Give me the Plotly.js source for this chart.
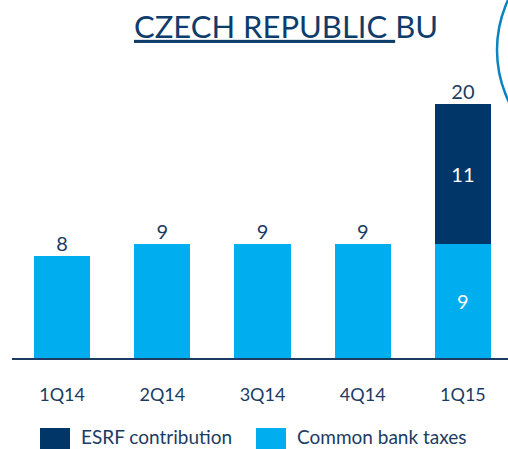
<!DOCTYPE html>
<html>
<head>
<meta charset="utf-8">
<script src="https://cdn.plot.ly/plotly-3.0.1.min.js"></script>
<style>html,body{margin:0;padding:0;background:#fff;}#chart{width:508px;height:449px;}</style>
</head>
<body>
<div id="chart"></div>
<script>
const categories = ["1Q14", "2Q14", "3Q14", "4Q14", "1Q15"];
const commonBankTaxes = [8, 9, 9, 9, 9];
const esrfContribution = [null, null, null, null, 11];
const seriesNames = ["ESRF contribution", "Common bank taxes"];
const titleText = "<u>CZECH REPUBLIC </u>BU";

const totals = categories.map((c, i) => commonBankTaxes[i] + (esrfContribution[i] || 0));

const DARK = "#003768";
const LIGHT = "#00ADEE";
const TEXT = "#1B3B63";
const FONT = "Lato, 'Open Sans', sans-serif";

const W = 508, H = 449, ML = 12, MR = 0, MT = 70, MB = 91;
const PW = W - ML - MR, PH = H - MT - MB;
const px = v => (v - ML) / PW;
const py = v => (H - MB - v) / PH;

const traces = [
  {
    type: "bar", name: seriesNames[1], x: categories, y: commonBankTaxes,
    marker: {color: LIGHT},
    text: commonBankTaxes.map(String),
    textposition: esrfContribution.map(v => v == null ? "none" : "inside"),
    insidetextanchor: "middle",
    insidetextfont: {color: "#ffffff", size: 20, family: FONT},
    hoverinfo: "skip", showlegend: false
  },
  {
    type: "bar", name: seriesNames[0], x: categories, y: esrfContribution,
    marker: {color: DARK},
    text: esrfContribution.map(v => v == null ? "" : String(v)),
    textposition: "inside",
    insidetextanchor: "middle",
    insidetextfont: {color: "#ffffff", size: 20, family: FONT},
    hoverinfo: "skip", showlegend: false
  },
  {
    type: "scatter", mode: "text", x: categories, y: totals,
    text: totals.map(String), textposition: "top center",
    textfont: {color: TEXT, size: 20, family: FONT},
    hoverinfo: "skip", showlegend: false
  }
];

const legendItems = [
  {name: seriesNames[0], color: DARK, sx0: 40, sx1: 70, tx: 80},
  {name: seriesNames[1], color: LIGHT, sx0: 256, sx1: 286, tx: 296}
];

const shapes = [
  {type: "circle", xref: "paper", yref: "paper",
   x0: px(616 - 119), x1: px(616 + 119), y0: py(50 + 119), y1: py(50 - 119),
   line: {color: "#0A84C1", width: 2.5}, fillcolor: "rgba(0,0,0,0)"}
];
const annotations = [];
legendItems.forEach(it => {
  shapes.push({type: "rect", xref: "paper", yref: "paper",
    x0: px(it.sx0), x1: px(it.sx1), y0: py(428), y1: py(452),
    line: {width: 0}, fillcolor: it.color});
  annotations.push({xref: "paper", yref: "paper", x: px(it.tx), y: py(449),
    xanchor: "left", yanchor: "bottom", showarrow: false, text: it.name,
    borderpad: 0,
    font: {color: TEXT, size: 19, family: FONT}});
});

const layout = {
  width: W, height: H,
  margin: {l: ML, r: MR, t: MT, b: MB, pad: 0},
  paper_bgcolor: "#ffffff", plot_bgcolor: "#ffffff",
  barmode: "stack", bargap: 0.44,
  title: {text: titleText, x: px(286), xref: "paper", xanchor: "center",
          y: 1 - 27 / H, yanchor: "middle",
          font: {color: "#0E3C6B", size: 31, family: FONT}},
  xaxis: {type: "category", range: [-0.5, 4.45], showgrid: false, zeroline: false,
          showline: true, linecolor: "#1B3B63", linewidth: 2, ticks: "",
          ticklabelstandoff: 19,
          tickfont: {color: TEXT, size: 18, family: FONT}, fixedrange: true},
  yaxis: {range: [0, PH / 12.7], visible: false, showgrid: false, zeroline: false, fixedrange: true},
  shapes: shapes,
  annotations: annotations,
  showlegend: false
};

Plotly.newPlot("chart", traces, layout, {displayModeBar: false, staticPlot: true});
</script>
</body>
</html>
